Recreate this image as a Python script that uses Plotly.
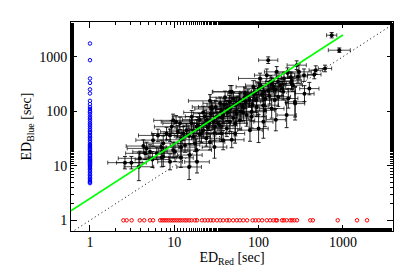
import plotly.graph_objects as go

# Black points: ED_Red, ED_Blue, and multiplicative error factors
ed_red = [2.6, 3.1, 3.9, 4.5, 5.15, 7.1, 8.9, 4.7, 4.3, 5.6, 6.4, 8.1, 7.4, 9.3, 10.5, 9.7, 6.2, 3.8,
          26.5, 45.9, 16.1, 11.7, 9.7, 18.4, 22, 30.4, 38, 26.5, 17.6, 13.4, 10.2, 7.4, 15.3, 18.4, 36.4, 52.6, 54.7, 12.8, 8.9, 16.8, 24.2,
          130, 283, 125, 104, 247, 196, 171, 225, 270, 48, 69, 86.5, 143, 94, 114, 60, 52.6, 41.8, 82.6, 143, 82.6, 60, 45.8, 114, 215, 38, 34.8,
          736, 906, 476, 613, 458, 301, 346, 293, 137, 164, 247, 255, 271, 156,
          48, 79, 30, 18.6, 15, 100, 160, 119, 350, 400,
          14, 20, 22, 28, 32, 35, 40, 26, 12, 11, 20, 24, 30, 42, 55, 65, 70, 75, 90, 100, 110, 130, 150, 180, 200, 220,
          66, 50, 36, 27.8, 16, 7, 5.5, 12, 85, 120, 160, 45,
          15, 17, 19, 21, 23, 25, 27, 29, 31, 33, 37, 39, 43, 46, 50, 53, 57, 62, 68, 72, 78, 88, 95, 105, 115, 135, 170, 190, 240, 12]
ed_blue = [11.4, 11.4, 13.7, 16.9, 18, 14.3, 11.8, 20.8, 23, 29.5, 36, 39, 26, 52, 64, 19.4, 16.9, 9.6,
           155, 227, 79, 60, 68, 52, 45, 52, 29.5, 27.4, 25.6, 23.9, 18, 14.6, 15.7, 19.4, 39, 39, 138, 39, 36, 34, 68,
           863, 699, 458, 399, 323, 227, 184, 171, 149, 227, 212, 280, 323, 160, 129, 160, 129, 112, 98, 112, 79, 68, 64, 64, 85, 85, 55,
           2476, 1315, 566, 608, 472, 527, 458, 427, 346, 527, 360, 300, 138, 160,
           30, 45, 22, 11.8, 9.5, 48, 70, 104, 210, 260,
           45, 70, 95, 110, 80, 140, 180, 60, 30, 42, 38, 32, 40, 48, 90, 120, 150, 190, 220, 260, 200, 240, 280, 300, 400, 500,
           95, 75, 100, 120, 60, 22, 13, 14, 130, 170, 250, 150,
           35, 45, 55, 40, 80, 50, 90, 65, 120, 60, 75, 130, 95, 110, 170, 60, 140, 100, 180, 85, 160, 200, 120, 300, 230, 190, 350, 260, 420, 22]
fx = [1.6, 1.5, 1.8, 1.7, 1.6, 1.5, 1.4, 1.7, 1.6, 1.6, 1.7, 1.5, 1.7, 1.6, 1.5, 1.5, 1.6, 1.5,
      1.8, 1.6, 1.7, 1.6, 1.7, 1.6, 1.6, 1.5, 1.4, 1.5, 1.6, 1.5, 1.5, 1.5, 1.4, 1.5, 1.5, 1.3, 1.6, 1.7, 1.6, 1.6, 1.6,
      1.3, 1.3, 1.4, 1.8, 1.3, 1.4, 1.4, 1.3, 1.3, 1.7, 1.6, 1.6, 1.5, 1.5, 1.5, 1.5, 1.5, 1.6, 1.5, 1.4, 1.5, 1.5, 1.5, 1.3, 1.3, 1.6, 1.6,
      1.15, 1.35, 1.2, 1.2, 1.2, 1.4, 1.3, 1.3, 1.5, 1.4, 1.3, 1.3, 1.3, 1.4,
      1.4, 1.4, 1.4, 1.4, 1.4, 1.3, 1.3, 1.3, 1.3, 1.3,
      1.6, 1.6, 1.7, 1.6, 1.6, 1.6, 1.5, 1.5, 1.5, 1.6, 1.5, 1.5, 1.5, 1.5, 1.5, 1.5, 1.5, 1.5, 1.5, 1.5, 1.4, 1.4, 1.4, 1.4, 1.4, 1.4,
      1.5, 1.5, 1.5, 1.7, 1.6, 1.6, 1.6, 1.4, 1.4, 1.4, 1.4, 1.5,
      1.5, 1.6, 1.5, 1.5, 1.7, 1.5, 1.6, 1.5, 1.6, 1.4, 1.5, 1.6, 1.5, 1.5, 1.6, 1.4, 1.5, 1.5, 1.5, 1.4, 1.5, 1.5, 1.4, 1.5, 1.4, 1.4, 1.4, 1.3, 1.3, 1.5]
fy = [1.3, 1.3, 1.35, 1.3, 1.35, 1.5, 1.4, 1.3, 1.3, 1.3, 1.3, 1.3, 1.35, 1.3, 1.3, 1.4, 1.3, 1.8,
      1.3, 1.3, 1.3, 1.3, 1.3, 1.35, 1.4, 1.35, 1.5, 1.4, 1.4, 1.35, 1.5, 1.5, 1.6, 1.6, 1.4, 1.5, 1.3, 1.35, 1.3, 1.35, 1.35,
      1.15, 1.2, 1.3, 1.25, 1.3, 1.4, 1.5, 1.5, 1.9, 1.3, 1.3, 1.3, 1.3, 1.4, 1.6, 1.35, 1.4, 1.4, 1.5, 1.5, 1.6, 1.5, 1.5, 2.0, 1.7, 1.4, 1.4,
      1.12, 1.1, 1.2, 1.15, 1.2, 1.4, 1.3, 1.3, 1.3, 1.25, 1.4, 1.3, 2.0, 1.5,
      1.4, 1.6, 1.6, 1.6, 1.7, 1.8, 1.6, 2.0, 1.4, 1.3,
      1.3, 1.3, 1.3, 1.3, 1.35, 1.3, 1.3, 1.35, 1.35, 1.3, 1.35, 1.4, 1.4, 1.4, 1.4, 1.35, 1.35, 1.3, 1.3, 1.3, 1.35, 1.3, 1.3, 1.3, 1.3, 1.25,
      1.4, 1.4, 1.35, 1.3, 1.3, 1.35, 1.4, 1.5, 1.4, 1.4, 1.3, 1.3,
      1.4, 1.35, 1.4, 1.5, 1.3, 1.45, 1.3, 1.4, 1.3, 1.6, 1.45, 1.3, 1.4, 1.35, 1.3, 1.7, 1.35, 1.5, 1.3, 1.6, 1.35, 1.3, 1.5, 1.25, 1.3, 1.4, 1.25, 1.35, 1.25, 1.5]

# Blue-only events (plotted at ED_Red = 1)
blue_only = [1745, 863, 398, 331, 251, 212, 155, 135, 120, 110, 100, 95, 88, 80, 75, 70, 65, 60, 56, 52,
             48, 45, 42, 40, 37, 35, 33, 31, 29, 27, 25, 24, 23, 22, 21, 20, 19, 18, 17, 16, 15.5, 15,
             14, 13.5, 13, 12.5, 12, 11.5, 11, 10.5, 10, 9.5, 9, 8.5, 8, 7.5, 7, 6.6, 6.2, 5.8, 5.5, 5.2, 5, 4.8]
# Red-only events (plotted at ED_Blue = 1)
red_only = [2.49, 2.72, 3.12, 3.9, 4.4, 5.15, 5.6, 6.8, 7.2, 7.6, 8.0, 8.5, 9.0, 9.5, 10, 10.6, 11.2, 11.8,
            12.5, 13.3, 14, 15, 16, 17.5, 18.6, 21.3, 23, 25, 27, 29, 32, 35, 38, 42, 45, 50, 55, 60, 66,
            73, 85, 92, 100, 110, 125, 137, 150, 160, 165, 190, 200, 215, 237, 250, 265, 285, 410, 440,
            868, 1469, 1932]

fit_x = [0.595, 1000]
fit_y = [1.5, 2500]
one_to_one = [0.5, 5000]

ex_plus = [x * (f - 1) for x, f in zip(ed_red, fx)]
ex_minus = [x * (1 - 1 / f) for x, f in zip(ed_red, fx)]
ey_plus = [y * (f - 1) for y, f in zip(ed_blue, fy)]
ey_minus = [y * (1 - 1 / f) for y, f in zip(ed_blue, fy)]

fig = go.Figure()
fig.add_trace(go.Scatter(x=one_to_one, y=one_to_one, mode="lines",
                         line=dict(color="black", width=1, dash="1px,3px"), showlegend=False))
fig.add_trace(go.Scatter(
    x=ed_red, y=ed_blue, mode="markers",
    marker=dict(color="black", size=4),
    error_x=dict(type="data", array=ex_plus, arrayminus=ex_minus, color="rgba(0,0,0,0.7)", thickness=1, width=2),
    error_y=dict(type="data", array=ey_plus, arrayminus=ey_minus, color="rgba(0,0,0,0.85)", thickness=1, width=2),
    showlegend=False))
fig.add_trace(go.Scatter(x=[1] * len(blue_only), y=blue_only, mode="markers",
                         marker=dict(color="blue", size=3.5, symbol="circle-open", line=dict(width=1)),
                         showlegend=False))
fig.add_trace(go.Scatter(x=red_only, y=[1] * len(red_only), mode="markers",
                         marker=dict(color="red", size=3.5, symbol="circle-open", line=dict(width=1)),
                         showlegend=False))
fig.add_trace(go.Scatter(x=fit_x, y=fit_y, mode="lines",
                         line=dict(color="#00ff00", width=1.6), showlegend=False))

axis_common = dict(
    type="log", showgrid=False, zeroline=False, showline=True, linecolor="black", linewidth=1,
    mirror="allticks", ticks="inside", ticklen=6, tickcolor="black", tickwidth=1,
    tickfont=dict(family="Liberation Serif", size=14, color="black"),
    minor=dict(ticks="inside", ticklen=3, tickcolor="black", showgrid=False),
)
# page body has an 8px default margin, so the figure is sized to fit the window
fig.update_layout(
    width=407, height=269,
    margin=dict(l=63, r=22, t=14, b=46),
    paper_bgcolor="white", plot_bgcolor="white",
    font=dict(family="Liberation Serif", size=14, color="black"),
    xaxis=dict(axis_common, range=[-0.225, 3.594], tickvals=[1, 10, 100, 1000], ticktext=["1", "10", "100", "1000"],
               ticklabelstandoff=-2,
               title=dict(text="ED<sub>Red</sub> [sec]", standoff=0, font=dict(family="Liberation Serif", size=14))),
    yaxis=dict(axis_common, range=[-0.196, 3.636], tickvals=[1, 10, 100, 1000], ticktext=["1", "10", "100", "1000"],
               title=dict(text="ED<sub>Blue</sub> [sec]", standoff=4, font=dict(family="Liberation Serif", size=14))),
)
fig.write_html("out.html")
